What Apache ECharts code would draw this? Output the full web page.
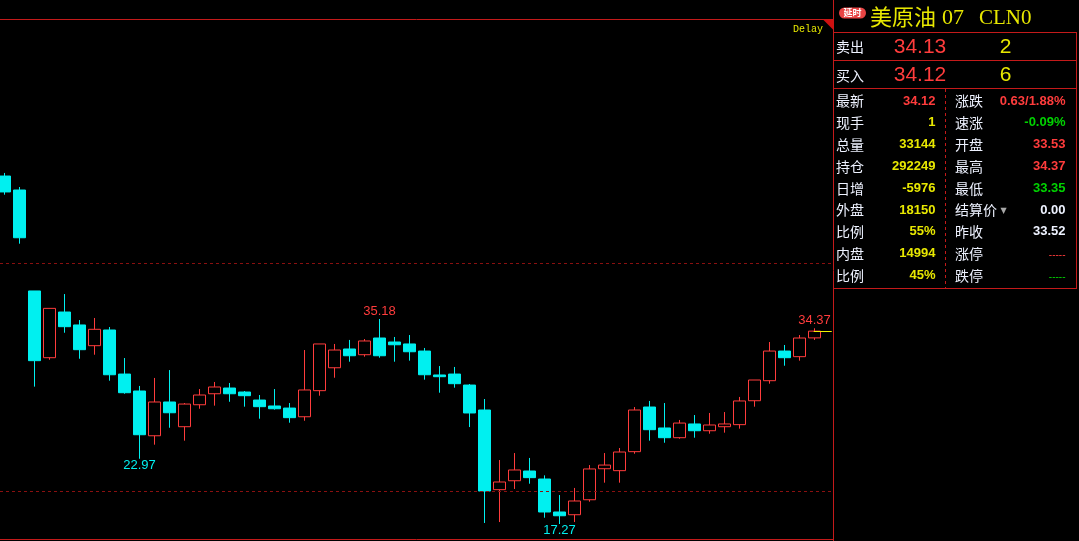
<!DOCTYPE html>
<html>
<head>
<meta charset="utf-8">
<script src="https://cdn.jsdelivr.net/npm/echarts@6/dist/echarts.min.js"></script>
<style>
html,body{margin:0;padding:0;background:#000;}
#main{width:1079px;height:541px;}
</style>
</head>
<body>
<div id="main"></div>
<script>
// ---------- data ----------
const categories = ['1','2','3','4','5','6','7','8','9','10','11','12','13','14','15','16','17','18','19','20',
  '21','22','23','24','25','26','27','28','29','30','31','32','33','34','35','36','37','38','39','40',
  '41','42','43','44','45','46','47','48','49','50','51','52','53','54','55'];
const opens  = [47.67,46.45,37.63,31.80,35.79,34.66,32.85,34.22,30.37,28.89,24.98,27.93,25.77,27.69,28.65,29.15,28.80,28.10,27.58,27.40,
  26.64,28.92,30.92,32.56,32.06,33.52,33.17,33.00,32.38,30.29,30.37,29.41,27.23,20.27,21.05,21.90,21.20,18.32,18.08,19.39,
  22.10,21.93,23.59,27.49,25.66,24.81,26.01,25.42,25.77,25.95,28.04,29.79,32.38,31.89,33.53];
const closes = [46.28,42.28,31.54,36.11,34.51,32.50,34.28,30.31,28.74,25.07,27.93,26.99,27.75,28.54,29.24,28.65,28.48,27.52,27.34,26.56,
  28.98,33.00,32.47,31.97,33.26,31.97,32.93,32.32,30.31,30.14,29.53,26.97,20.15,20.94,21.99,21.32,18.32,17.99,19.28,22.08,
  22.42,23.56,27.23,25.51,24.81,26.09,25.42,25.92,26.01,28.02,29.85,32.38,31.80,33.52,34.12];
const lows   = [46.04,41.76,29.27,31.62,33.98,31.71,32.06,29.79,28.65,22.97,24.20,25.68,24.55,27.34,27.61,27.95,27.52,26.47,27.26,26.12,
  26.29,28.48,30.05,31.45,31.89,31.80,31.45,31.54,29.88,28.74,29.18,25.74,17.36,17.44,20.33,20.79,17.82,17.27,17.44,19.22,
  20.88,20.88,23.41,24.55,24.37,24.72,24.81,25.16,25.25,25.60,27.52,29.53,31.10,31.54,33.35];
const highs  = [47.94,46.71,37.63,36.11,37.36,35.09,35.27,34.48,31.77,29.33,30.03,30.72,27.84,29.06,29.68,29.59,28.89,28.54,29.06,27.84,
  32.47,33.00,33.00,33.35,33.43,35.18,33.61,33.78,32.65,31.07,30.99,29.50,28.19,22.86,23.47,23.04,21.52,19.80,20.42,22.42,
  23.47,23.91,27.49,28.02,27.84,26.36,26.79,26.97,27.05,28.37,29.85,33.17,32.91,33.78,34.37];
const lastPrice = 34.12;
const gridLevels = [40.05, 20.13];
const highLabels = [{ idx: 25, value: 35.18 }, { idx: 54, value: 34.37 }];
const lowLabels  = [{ idx: 9, value: 22.97 }, { idx: 37, value: 17.27 }];

const titleName = '美原油';
const titleCode = '07';
const titleSym = 'CLN0';
const badgeText = '延时';
const delayText = 'Delay';
const bookLabels = ['卖出', '买入'];
const bookPrices = ['34.13', '34.12'];
const bookVolumes = ['2', '6'];
const leftLabels  = ['最新','现手','总量','持仓','日增','外盘','比例','内盘','比例'];
const leftValues  = ['34.12','1','33144','292249','-5976','18150','55%','14994','45%'];
const rightLabels = ['涨跌','速涨','开盘','最高','最低','结算价','昨收','涨停','跌停'];
const rightValues = ['0.63/1.88%','-0.09%','33.53','34.37','33.35','0.00','33.52','-----','-----'];

// ---------- styles ----------
const RED = '#ff3c3c', CYAN = '#00f0f0', YEL = '#e8e800', GRN = '#00d200', WHT = '#eef2ff';
const LINE = '#c41a1a';
const leftColors  = [RED, YEL, YEL, YEL, YEL, YEL, YEL, YEL, YEL];
const rightColors = [RED, GRN, RED, RED, GRN, WHT, WHT, RED, GRN];
const numFont = "'Liberation Sans',Arial,sans-serif";

const candleData = opens.map((o, i) => [i, o, closes[i], lows[i], highs[i]]);

const markPts = [];
highLabels.forEach(p => markPts.push({
  coord: [p.idx, p.value], value: p.value.toFixed(2),
  label: { position: 'top', distance: 1, color: RED }
}));
lowLabels.forEach(p => markPts.push({
  coord: [p.idx, p.value], value: p.value.toFixed(2),
  label: { position: 'bottom', distance: 0, color: CYAN }
}));

const lastIdx = opens.length - 1;
const markLines = gridLevels.map(v => ({
  yAxis: v, lineStyle: { color: '#8a1010', type: [3, 3], width: 1 }
}));
markLines.push([
  { coord: [lastIdx - 0.05, lastPrice], lineStyle: { color: '#f0f000', type: 'solid', width: 1 } },
  { coord: [lastIdx + 1.15, lastPrice] }
]);

// ---------- frame & quote panel graphics ----------
const g = [];
function hline(x1, x2, y, color, dash) {
  g.push({ type: 'line', silent: true, shape: { x1, y1: y, x2, y2: y },
    style: { stroke: color, lineWidth: 1, lineDash: dash || null } });
}
function vline(x, y1, y2, color, dash) {
  g.push({ type: 'line', silent: true, shape: { x1: x, y1, x2: x, y2 },
    style: { stroke: color, lineWidth: 1, lineDash: dash || null } });
}
function txt(text, x, y, fill, font, align) {
  g.push({ type: 'text', silent: true,
    style: { text, x, y, fill, font, align: align || 'left', verticalAlign: 'middle',
      textAlign: align || 'left', textVerticalAlign: 'middle' } });
}

// chart frame
hline(0, 833, 19.5, LINE);
hline(0, 833, 539.5, LINE);
vline(833.5, 0, 541, LINE);
g.push({ type: 'polygon', silent: true, shape: { points: [[823, 19.5], [833.5, 19.5], [833.5, 30]] },
  style: { fill: '#d01010' } });
txt(delayText, 823, 29.5, YEL, "10px 'Liberation Mono',monospace", 'right');

// title
g.push({ type: 'rect', silent: true, shape: { x: 839, y: 7.5, width: 27, height: 11, r: 5.5 },
  style: { fill: '#e84444' } });
txt(badgeText, 852.5, 13, '#ffffff', "bold 9px 'Noto Sans CJK SC',sans-serif", 'center');
txt(titleName, 870, 17, '#e8e800', "22px 'Noto Sans CJK SC',sans-serif");
txt(titleCode, 942, 18, '#e8e800', "22px 'Liberation Serif',serif");
txt(titleSym, 979, 18, '#e8e800', "21px 'Liberation Serif',serif");

// table frame
hline(833, 1077, 32.5, LINE);
hline(833, 1077, 60.5, LINE);
hline(833, 1077, 88.5, LINE);
hline(833, 1077, 288.5, LINE);
vline(1076.5, 32, 289, LINE);
vline(945.5, 89, 288, LINE, [3, 3]);

// order book
const bookY = [47, 75.5];
bookLabels.forEach((l, i) => {
  txt(l, 836, bookY[i], WHT, "14px 'Noto Sans CJK SC',sans-serif");
  txt(bookPrices[i], 920, bookY[i], RED, "21px " + numFont, 'center');
  txt(bookVolumes[i], 1005.5, bookY[i], YEL, "21px " + numFont, 'center');
});

// quote rows
leftLabels.forEach((l, i) => {
  const y = 101 + 21.8 * i;
  txt(l, 836, y, WHT, "14px 'Noto Sans CJK SC',sans-serif");
  txt(leftValues[i], 935.5, y, leftColors[i], "bold 13px " + numFont, 'right');
  txt(rightLabels[i], 955, y, WHT, "14px 'Noto Sans CJK SC',sans-serif");
  const isDash = rightValues[i] === '-----';
  txt(rightValues[i], 1065.5, isDash ? y + 2 : y, rightColors[i],
    isDash ? "10px " + numFont : "bold 13px " + numFont, 'right');
});
// settlement dropdown marker
txt('▼', 1003.5, 211, '#a8a8a8', "8px 'DejaVu Sans',sans-serif", 'center');

// ---------- chart ----------
const chart = echarts.init(document.getElementById('main'), null, { renderer: 'canvas' });
chart.setOption({
  backgroundColor: '#000000',
  animation: false,
  grid: { left: 0, right: 246, top: 19, height: 520, show: false },
  xAxis: { type: 'value', min: -0.3, max: 55.2333, show: false, splitLine: { show: false },
    axisLabel: { formatter: v => categories[v] || '' } },
  yAxis: { type: 'value', min: 15.96, max: 61.39, show: false, splitLine: { show: false } },
  series: [{
    type: 'candlestick',
    data: candleData,
    barWidth: 13,
    itemStyle: { color: '#000000', color0: CYAN, borderColor: RED, borderColor0: CYAN, borderWidth: 1 },
    markLine: { silent: true, symbol: ['none', 'none'], label: { show: false }, animation: false, data: markLines },
    markPoint: {
      symbol: 'circle', symbolSize: 0, silent: true, animation: false,
      label: { show: true, fontSize: 13, fontFamily: numFont, formatter: p => p.value },
      data: markPts
    }
  }],
  graphic: g
});
</script>
</body>
</html>
